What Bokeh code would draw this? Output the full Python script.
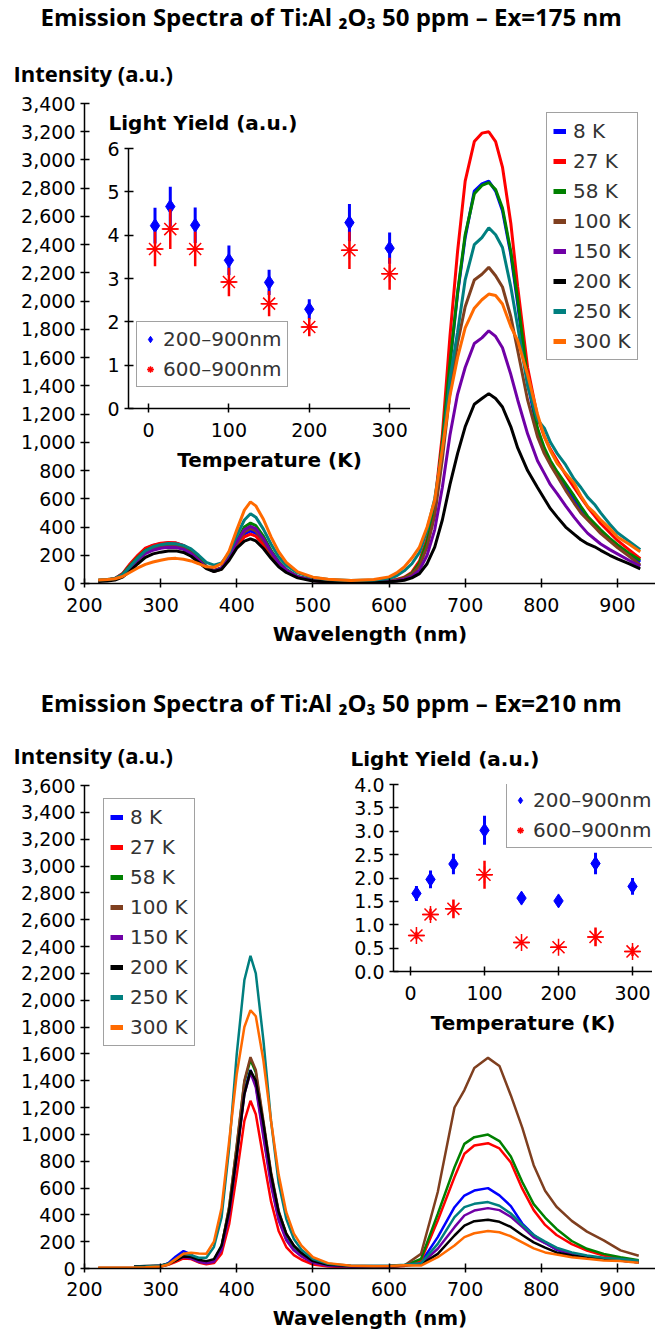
from bokeh.plotting import figure
from bokeh.models import Range1d, Title, Legend, LegendItem, NumeralTickFormatter, SingleIntervalTicker
from bokeh.layouts import column
from bokeh.embed import file_html
from bokeh.resources import INLINE

nan = float("nan")

series_labels = ["8 K", "27 K", "58 K", "100 K", "150 K", "200 K", "250 K", "300 K"]
series_colors = ["#0000ff", "#ff0000", "#008000", "#7f3f1f", "#6f00a6", "#000000", "#007f7f", "#ff6a00"]

# ---------------- Ex = 175 nm spectra ----------------
wl_175 = [218, 230, 240, 250, 260, 270, 280, 290, 300, 310, 320, 330, 340, 350, 360, 370, 380, 390, 400, 410,
          418, 425, 435, 445, 455, 465, 480, 500, 520, 550, 580,
          600, 610, 620, 630, 640, 650, 660, 670, 680, 690, 700, 712, 722, 731, 740, 749, 760, 769, 782, 795,
          804, 812, 821, 832, 843, 852, 861, 870, 878, 890, 900, 915, 930]

i175_8K = [22, 25, 35, 68, 135, 195, 245, 270, 282, 287, 285, 268, 232, 178, 118, 90, 108, 180, 280, 350,
           372, 355, 290, 205, 135, 88, 46, 22, 14, 12, 13,
           18, 25, 40, 70, 140, 290, 520, 1000, 1550, 2050, 2450, 2780, 2830, 2850, 2780, 2640, 2330, 1980, 1420, 1080,
           940, 850, 770, 690, 600, 530, 460, 410, 370, 310, 265, 205, 152]
i175_27K = [22, 25, 35, 70, 140, 200, 250, 272, 285, 290, 288, 270, 235, 180, 120, 92, 110, 180, 270, 330,
            350, 335, 275, 195, 130, 85, 45, 22, 14, 12, 13,
            20, 28, 45, 80, 160, 320, 560, 1050, 1750, 2350, 2850, 3130, 3190, 3200, 3130, 2950, 2550, 2100, 1530, 1180,
            1040, 950, 870, 770, 680, 610, 540, 480, 425, 360, 305, 240, 175]
i175_58K = [22, 25, 34, 65, 128, 185, 235, 258, 270, 276, 275, 260, 228, 176, 118, 90, 110, 190, 300, 400,
            428, 410, 335, 235, 155, 100, 50, 24, 15, 12, 13,
            18, 25, 40, 72, 145, 295, 530, 1000, 1560, 2060, 2470, 2760, 2820, 2840, 2790, 2660, 2350, 2010, 1450, 1100,
            960, 870, 790, 705, 620, 545, 475, 425, 380, 320, 275, 215, 164]
i175_100K = [20, 24, 33, 62, 122, 178, 228, 250, 262, 267, 265, 250, 218, 168, 112, 85, 102, 175, 280, 365,
             390, 372, 305, 215, 140, 92, 47, 22, 14, 12, 12,
             18, 25, 38, 65, 125, 260, 480, 880, 1350, 1700, 1960, 2150, 2190, 2240, 2180, 2100, 1890, 1650, 1300, 1040,
             920, 840, 760, 660, 570, 500, 450, 400, 355, 300, 255, 195, 130]
i175_150K = [20, 23, 31, 58, 112, 165, 212, 236, 250, 256, 255, 242, 212, 165, 112, 88, 108, 185, 295, 380,
             405, 388, 318, 225, 148, 96, 48, 22, 14, 11, 12,
             15, 20, 30, 50, 95, 200, 380, 680, 1050, 1340, 1530, 1700, 1740, 1790, 1750, 1670, 1480, 1300, 1060, 870,
             780, 700, 635, 550, 470, 410, 355, 315, 280, 240, 210, 165, 122]
i175_200K = [15, 18, 25, 45, 90, 140, 185, 210, 222, 230, 231, 220, 193, 150, 105, 85, 100, 165, 250, 300,
             316, 302, 248, 178, 118, 78, 40, 18, 12, 10, 10,
             12, 16, 23, 40, 70, 140, 258, 450, 700, 920, 1110, 1270, 1310, 1345, 1310, 1250, 1110, 960, 800, 680,
             600, 530, 470, 400, 350, 310, 280, 260, 235, 200, 175, 140, 104]
i175_250K = [25, 28, 36, 62, 120, 180, 232, 260, 275, 283, 282, 270, 245, 200, 150, 130, 145, 215, 340, 450,
             494, 470, 385, 280, 190, 130, 75, 42, 28, 22, 25,
             35, 55, 90, 140, 220, 380, 600, 950, 1450, 1780, 2150, 2400, 2450, 2520, 2470, 2380, 2100, 1820, 1400, 1160,
             1100, 1000, 920, 840, 740, 680, 610, 560, 500, 420, 360, 300, 240]
i175_300K = [25, 28, 34, 50, 80, 110, 135, 152, 165, 175, 178, 172, 160, 140, 118, 115, 140, 230, 380, 520,
             578, 550, 455, 330, 225, 150, 82, 45, 30, 22, 28,
             47, 75, 117, 180, 258, 400, 590, 950, 1330, 1600, 1810, 1950, 2010, 2050, 2040, 1980, 1820, 1720, 1480, 1200,
             1040, 940, 850, 780, 710, 620, 545, 500, 450, 390, 330, 280, 225]

# ---------------- Ex = 210 nm spectra ----------------
wl_210 = [218, 265, 280, 300, 310, 320, 330, 340, 350, 360, 370, 380, 390, 400, 410, 418, 425, 435, 445, 455,
          465, 475, 485, 500, 520, 550, 580, 600, 620,
          642, 664, 686, 699, 712, 730, 745, 760, 775, 790, 805, 820, 840, 860, 882, 904, 928]

i210_8K = [nan, 12, 14, 18, 40, 90, 130, 105, 60, 42, 55, 150, 420, 860, 1320, 1480, 1370, 1000, 640, 370,
           220, 140, 95, 45, 22, 15, 15, 16, 22,
           47, 234, 457, 544, 581, 599, 545, 465, 335, 250, 190, 140, 108, 84, 72, 60, 47]
i210_27K = [nan, 10, 12, 15, 28, 50, 75, 70, 45, 32, 40, 110, 330, 700, 1100, 1250, 1150, 820, 500, 280,
            160, 100, 65, 30, 15, 10, 10, 12, 18,
            60, 358, 681, 855, 917, 934, 895, 790, 595, 435, 325, 250, 182, 134, 97, 72, 55]
i210_58K = [nan, 12, 14, 18, 32, 65, 95, 85, 60, 45, 60, 160, 455, 910, 1390, 1555, 1460, 1080, 700, 420,
            255, 165, 112, 55, 25, 16, 15, 15, 22,
            72, 407, 755, 929, 979, 998, 950, 835, 645, 480, 380, 295, 205, 147, 109, 84, 62]
i210_100K = [5, 8, 10, 15, 30, 60, 95, 85, 60, 45, 60, 160, 460, 920, 1400, 1575, 1480, 1100, 720, 430,
             260, 170, 115, 55, 25, 16, 15, 15, 22,
             109, 570, 1200, 1330, 1495, 1570, 1510, 1290, 1050, 770, 580, 460, 355, 275, 210, 135, 95]
i210_150K = [nan, 12, 14, 18, 35, 65, 85, 75, 50, 38, 50, 140, 400, 830, 1300, 1460, 1350, 980, 620, 360,
             210, 135, 90, 42, 20, 14, 14, 16, 22,
             35, 147, 308, 395, 432, 450, 435, 385, 310, 232, 190, 145, 108, 84, 70, 60, 47]
i210_200K = [nan, 15, 18, 22, 35, 60, 90, 85, 65, 55, 70, 170, 430, 850, 1300, 1475, 1400, 1080, 700, 420,
             260, 170, 115, 55, 28, 18, 18, 20, 25,
             30, 109, 246, 320, 353, 363, 348, 310, 250, 195, 155, 120, 97, 80, 70, 60, 47]
i210_250K = [nan, 12, 15, 20, 35, 70, 110, 100, 80, 80, 160, 380, 900, 1600, 2150, 2330, 2200, 1700, 1100, 640,
             370, 220, 140, 70, 35, 20, 18, 20, 28,
             40, 184, 383, 457, 482, 495, 468, 410, 325, 250, 200, 155, 120, 97, 80, 70, 58]
i210_300K = [5, 8, 10, 15, 30, 70, 110, 118, 112, 110, 200, 450, 950, 1450, 1800, 1925, 1880, 1550, 1100, 700,
             420, 260, 170, 85, 40, 20, 17, 18, 25,
             22, 84, 171, 234, 263, 280, 270, 240, 195, 150, 120, 104, 84, 72, 60, 55, 42]

# ---------------- Light yield insets ----------------
temps = [8, 27, 58, 100, 150, 200, 250, 300]
ly175_all = [4.22, 4.66, 4.23, 3.42, 2.91, 2.29, 4.29, 3.70]
ly175_all_err = [0.41, 0.46, 0.41, 0.34, 0.29, 0.23, 0.43, 0.36]
ly175_red = [3.68, 4.14, 3.68, 2.92, 2.42, 1.88, 3.65, 3.11]
ly175_red_err = [0.40, 0.46, 0.40, 0.33, 0.29, 0.21, 0.43, 0.37]

ly210_all = [1.67, 1.97, 2.30, 3.02, 1.57, 1.51, 2.31, 1.82]
ly210_all_err = [0.16, 0.19, 0.22, 0.31, 0.10, 0.09, 0.23, 0.18]
ly210_red = [0.77, 1.22, 1.34, 2.07, 0.62, 0.52, 0.74, 0.43]
ly210_red_err = [0.08, 0.12, 0.20, 0.30, 0.06, 0.05, 0.20, 0.10]

inset_labels = ["200–900nm", "600–900nm"]

TICK_FONT = "DejaVu Sans"
LABEL_FONT = "DejaVu Sans"
TITLE_FONT = "Open Sans"


def style_axes(p, tick_size, label_size, x_std, x_lab_std):
    for ax in (p.xaxis[0], p.yaxis[0]):
        ax.axis_line_color = "black"
        ax.axis_line_width = 1.5
        ax.major_tick_line_color = "black"
        ax.major_tick_line_width = 1.5
        ax.major_tick_in = 5
        ax.major_tick_out = 4
        ax.minor_tick_line_color = None
        ax.major_label_text_font = TICK_FONT
        ax.major_label_text_font_size = tick_size
        ax.major_label_text_color = "black"
        ax.axis_label_text_font = LABEL_FONT
        ax.axis_label_text_font_size = label_size
        ax.axis_label_text_font_style = "bold"
        ax.axis_label_text_color = "black"
    p.xaxis[0].major_label_standoff = x_std
    p.xaxis[0].axis_label_standoff = x_lab_std
    p.yaxis[0].major_label_standoff = 5
    p.xgrid.visible = False
    p.ygrid.visible = False
    p.outline_line_color = None


def spectra_fig(title_text, wl, series, y_max, height, b_top, b_bottom, lw, s1, s2, legend_loc, margin,
                x_std, x_lab_std):
    p = figure(width=655, height=height, x_range=Range1d(200, 950), y_range=Range1d(0, y_max),
               output_backend="svg", toolbar_location=None,
               min_border_left=84, min_border_right=0, min_border_top=b_top, min_border_bottom=b_bottom,
               margin=margin)
    p.add_layout(Title(text="Intensity (a.u.)", align="left", offset=-71, text_font=TITLE_FONT,
                       text_font_size="22px", text_font_style="bold", text_color="black", standoff=s1), "above")
    p.add_layout(Title(text=title_text, align="left", offset=-44, text_font=TITLE_FONT,
                       text_font_size="24px", text_font_style="bold", text_color="black", standoff=s2), "above")
    items = []
    for vals, lab, col in zip(series, series_labels, series_colors):
        p.line(wl, vals, line_color=col, line_width=lw)
        proxy = p.line(x=[nan], y=[nan], line_color=col, line_width=5)
        items.append(LegendItem(label=lab, renderers=[proxy]))
    leg = Legend(items=items, location=legend_loc, label_text_font=TICK_FONT, label_text_font_size="20px",
                 label_text_color="#333333", glyph_width=13, glyph_height=20, label_height=22,
                 spacing=6, padding=6, label_standoff=7, border_line_color="#444444",
                 border_line_width=1.5, background_fill_color="white", background_fill_alpha=1.0)
    p.add_layout(leg)
    p.xaxis.axis_label = "Wavelength (nm)"
    p.xaxis.ticker = SingleIntervalTicker(interval=100)
    p.yaxis.ticker = SingleIntervalTicker(interval=200)
    p.yaxis.formatter = NumeralTickFormatter(format="0,0")
    style_axes(p, "19px", "20px", x_std, x_lab_std)
    return p


def inset_fig(a, a_err, r, r_err, xr, yr, y_int, y_fmt, width, height, mbt, mbb, title_offset,
              legend_loc, margin):
    p = figure(width=width, height=height, x_range=Range1d(*xr), y_range=Range1d(*yr),
               output_backend="svg", toolbar_location=None,
               min_border_left=84, min_border_right=0, min_border_top=mbt, min_border_bottom=mbb,
               margin=margin)
    p.background_fill_alpha = 0
    p.border_fill_alpha = 0
    p.add_layout(Title(text="Light Yield (a.u.)", align="left", offset=title_offset, text_font=LABEL_FONT,
                       text_font_size="20px", text_font_style="bold", text_color="black", standoff=28), "above")
    a_lo = [v - e for v, e in zip(a, a_err)]
    a_hi = [v + e for v, e in zip(a, a_err)]
    r_lo = [v - e for v, e in zip(r, r_err)]
    r_hi = [v + e for v, e in zip(r, r_err)]
    p.segment(x0=temps, y0=a_lo, x1=temps, y1=a_hi, line_color="#0000ff", line_width=3)
    d = p.scatter(temps, a, marker="diamond", size=14, fill_color="#0000ff", line_color="#0000ff")
    p.segment(x0=temps, y0=r_lo, x1=temps, y1=r_hi, line_color="#ff0000", line_width=2.5)
    s1 = p.scatter(temps, r, marker="asterisk", size=17, line_color="#ff0000", line_width=1.5)
    s2 = p.scatter(temps, r, marker="dash", size=15, line_color="#ff0000", line_width=1.5)
    leg = Legend(items=[LegendItem(label=inset_labels[0], renderers=[d]),
                        LegendItem(label=inset_labels[1], renderers=[s1, s2])],
                 location=legend_loc, label_text_font=TICK_FONT, label_text_font_size="20px",
                 label_text_color="#333333", glyph_width=16, glyph_height=20, label_height=22,
                 spacing=6, padding=5, label_standoff=5, border_line_color="#444444",
                 border_line_width=1.5, background_fill_color="white", background_fill_alpha=1.0)
    p.add_layout(leg)
    p.xaxis.axis_label = "Temperature (K)"
    p.xaxis.ticker = SingleIntervalTicker(interval=100)
    p.yaxis.ticker = SingleIntervalTicker(interval=y_int)
    p.yaxis.formatter = NumeralTickFormatter(format=y_fmt)
    style_axes(p, "19px", "20px", 10, 8)
    return p


top = spectra_fig("Emission Spectra of Ti:Al ₂O₃ 50 ppm – Ex=175 nm", wl_175,
                  [i175_8K, i175_27K, i175_58K, i175_100K, i175_150K, i175_200K, i175_250K, i175_300K],
                  3400, 660, 113, 67, 3, 32, 13, (462, 223), (-10, 0, 0, 0), 10, 7)

top_inset = inset_fig(ly175_all, ly175_all_err, ly175_red, ly175_red_err, (-25, 326), (0, 6), 1, "0",
                      366, 386, 56, 70, -20, (8, 21), (-558, 0, 0, 44))

bottom = spectra_fig("Emission Spectra of Ti:Al ₂O₃ 50 ppm – Ex=210 nm", wl_210,
                     [i210_8K, i210_27K, i210_58K, i210_100K, i210_150K, i210_200K, i210_250K, i210_300K],
                     3600, 683, 135, 65, 2.5, 32, 6, (19, 222), (172, 0, 0, 0), 9, 7)

bottom_inset = inset_fig(ly210_all, ly210_all_err, ly210_red, ly210_red_err, (-23, 327), (0, 4), 0.5, "0.0",
                         343, 313, 56, 70, -43, (113, 123), (-605, 0, 0, 309))

page = column(top, top_inset, bottom, bottom_inset, spacing=0)

open("out.html", "w").write(file_html(page, INLINE))
